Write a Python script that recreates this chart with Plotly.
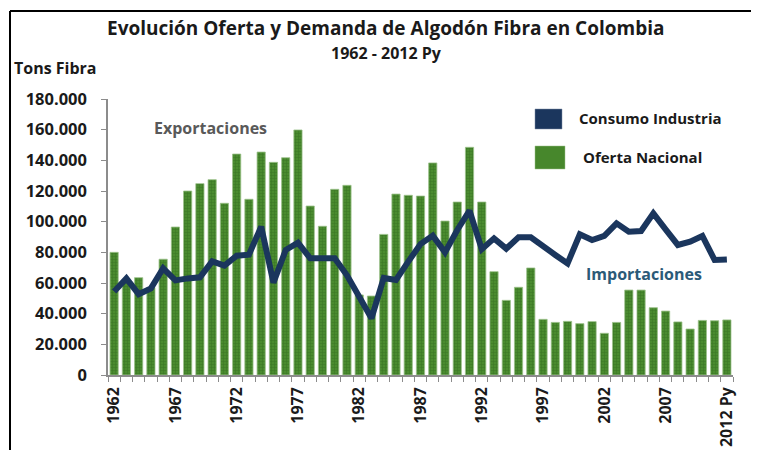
import plotly.graph_objects as go

years = list(range(1962, 2013))
tick_years = [1962, 1967, 1972, 1977, 1982, 1987, 1992, 1997, 2002, 2007, 2012]
tick_labels = ["1962", "1967", "1972", "1977", "1982", "1987", "1992", "1997", "2002", "2007", "2012 Py"]

oferta_nacional = [
    80000, 62000, 63500, 57000, 75500, 96500, 120000, 124800, 127400, 112000,
    144100, 114600, 145400, 138700, 141700, 159800, 110200, 97000, 121100, 123700,
    52200, 51500, 91700, 118000, 117200, 116700, 138300, 100400, 112800, 148500,
    112800, 67400, 48700, 57200, 69800, 36300, 34300, 35000, 33500, 34800,
    27200, 34300, 55400, 55400, 43900, 41700, 34600, 30000, 35600, 35400,
    35900,
]

consumo_industria = [
    54500, 63000, 52700, 56500, 69600, 61700, 63000, 63700, 74100, 71300,
    77800, 78500, 96700, 60200, 81500, 86300, 76100, 76100, 76200, 65000,
    51000, 37000, 63300, 62000, 73900, 85400, 90900, 80000, 94600, 107200,
    82000, 89100, 82400, 89800, 89800, 83700, 78300, 72800, 91700, 88000,
    90700, 98900, 93500, 93900, 105400, 95000, 84800, 87000, 90700, 75000,
    75400,
]

green = "#47872c"
navy = "#1b365d"

fig = go.Figure()
fig.add_trace(go.Bar(
    x=years, y=oferta_nacional, name="Oferta Nacional",
    marker=dict(
        color=green,
        line=dict(color="#9cc28a", width=0.8),
        pattern=dict(shape="+", fgcolor="#275e18", bgcolor="#4a8b2f", size=3, solidity=0.3),
    ),
    showlegend=False,
))
fig.add_trace(go.Scatter(
    x=years, y=consumo_industria, name="Consumo Industria",
    mode="lines", line=dict(color=navy, width=6),
    showlegend=False,
))

# The page body has an 8px margin, so the figure is 751x442 and starts at (8, 8).
OFF = 8
W, H = 759 - OFF, 450 - OFF
# plot area in page pixels: x 108..733, y 99..375
L, R, T, B = 108 - OFF, 26, 99 - OFF, 75
pw, ph = W - L - R, H - T - B

def px(x):
    return (x - OFF - L) / pw

def py(y):
    return (H - B - (y - OFF)) / ph

font = "'Open Sans', sans-serif"
dark = "#1a1a1a"

shapes = [
    # frame lines (top and left)
    dict(type="line", xref="paper", yref="paper", x0=px(10), x1=px(759), y0=py(11), y1=py(11),
         line=dict(color="black", width=2)),
    dict(type="line", xref="paper", yref="paper", x0=px(10), x1=px(10), y0=py(11), y1=py(450),
         line=dict(color="black", width=2)),
    # legend keys
    dict(type="rect", xref="paper", yref="paper", x0=px(535), x1=px(562), y0=py(109), y1=py(129),
         fillcolor=navy, line=dict(color="#7f8fa6", width=0.5)),
    dict(type="rect", xref="paper", yref="paper", x0=px(535), x1=px(565), y0=py(146), y1=py(169),
         fillcolor=green, line=dict(color="#9cc28a", width=0.5)),
]

annotations = [
    dict(text="Evolución Oferta y Demanda de Algodón Fibra en Colombia", x=px(385), y=py(28),
         xref="paper", yref="paper", showarrow=False, xanchor="center", yanchor="middle",
         font=dict(family=font, size=19, color=dark, weight="bold")),
    dict(text="1962 - 2012 Py", x=px(386), y=py(53),
         xref="paper", yref="paper", showarrow=False, xanchor="center", yanchor="middle",
         font=dict(family=font, size=16, color=dark, weight="bold")),
    dict(text="Tons Fibra", x=px(12), y=py(68),
         xref="paper", yref="paper", showarrow=False, xanchor="left", yanchor="middle",
         font=dict(family=font, size=16, color=dark, weight="bold")),
    dict(text="Consumo Industria", x=px(577), y=py(118),
         xref="paper", yref="paper", showarrow=False, xanchor="left", yanchor="middle",
         font=dict(family=font, size=15, color=dark, weight="bold")),
    dict(text="Oferta Nacional", x=px(581), y=py(157),
         xref="paper", yref="paper", showarrow=False, xanchor="left", yanchor="middle",
         font=dict(family=font, size=15, color=dark, weight="bold")),
    dict(text="Exportaciones", x=px(210), y=py(128),
         xref="paper", yref="paper", showarrow=False, xanchor="center", yanchor="middle",
         font=dict(family=font, size=16, color="#595959", weight="bold")),
    dict(text="Importaciones", x=px(644), y=py(274),
         xref="paper", yref="paper", showarrow=False, xanchor="center", yanchor="middle",
         font=dict(family=font, size=16, color="#2b5a78", weight="bold")),
]

fig.update_layout(
    width=W, height=H,
    margin=dict(l=L, r=R, t=T, b=B, pad=0),
    paper_bgcolor="white", plot_bgcolor="white",
    separators=",.",
    bargap=0.33,
    shapes=shapes,
    annotations=annotations,
    xaxis=dict(
        range=[1961.5, 2012.5], automargin=False,
        tickmode="array", tickvals=tick_years, ticktext=tick_labels,
        tickangle=-90, ticks="", ticklen=0,
        tickfont=dict(family=font, size=16, color=dark, weight="bold"),
        showgrid=False, zeroline=False,
        showline=True, linecolor="#8c8c8c", linewidth=1.5,
        minor=dict(tickmode="array", tickvals=[y + 0.5 for y in range(1961, 2013)],
                   ticks="outside", ticklen=5, tickcolor="#8c8c8c", tickwidth=1, showgrid=False),
        ticklabelstandoff=4,
    ),
    yaxis=dict(
        range=[0, 180000], tickmode="linear", tick0=0, dtick=20000, automargin=False,
        tickformat=",d",
        ticks="outside", ticklen=5, tickcolor="#8c8c8c",
        tickfont=dict(family=font, size=16.5, color=dark, weight="bold"),
        showgrid=False, zeroline=False,
        showline=True, linecolor="#8c8c8c", linewidth=1.5,
        ticklabelstandoff=11,
    ),
)

fig.write_html("out.html")
